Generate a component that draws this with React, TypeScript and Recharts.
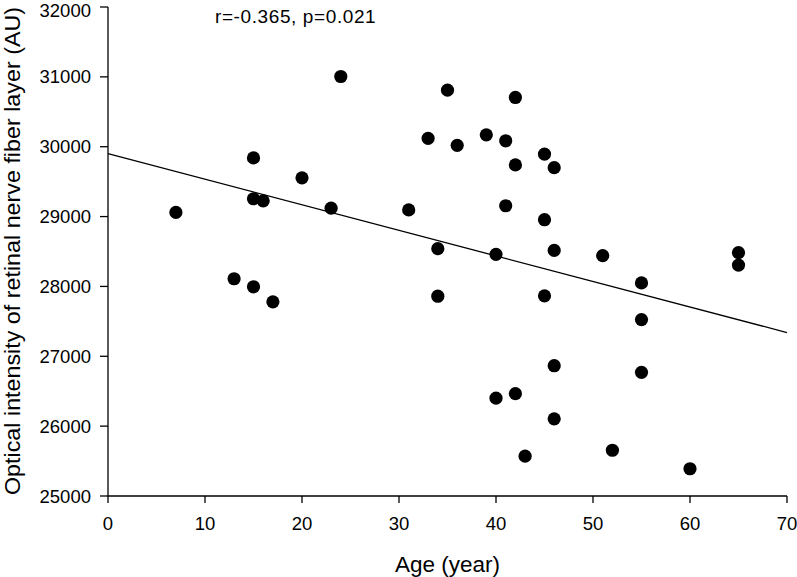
import React from 'react';
import {
  ScatterChart,
  Scatter,
  XAxis,
  YAxis,
  ReferenceLine,
} from 'recharts';

// ages (year) and optical intensity (AU)
const ages = [
  7, 13, 15, 15, 15, 16, 17, 20, 23, 24,
  31, 33, 34, 34, 35, 36, 39, 40, 40, 41,
  41, 42, 42, 42, 43, 45, 45, 45, 46, 46,
  46, 46, 51, 52, 55, 55, 55, 60, 65, 65,
];
const intensities = [
  29060, 28110, 27995, 29840, 29255, 29225, 27780, 29555, 29120, 31005,
  29095, 30120, 28540, 27860, 30810, 30020, 30170, 28460, 26400, 30085,
  29155, 30705, 29740, 26465, 25570, 29895, 28955, 27865, 29700, 28515,
  26865, 26105, 28440, 25655, 28050, 27525, 26770, 25390, 28485, 28305,
];

// fitted regression line end points
const trendX = [0, 70];
const trendY = [29900, 27340];

const xTicks = [0, 10, 20, 30, 40, 50, 60, 70];
const yTicks = [25000, 26000, 27000, 28000, 29000, 30000, 31000, 32000];

const annotation = 'r=-0.365, p=0.021';

const points = ages.map((a, i) => ({ age: a, value: intensities[i] }));

const FONT = 'Arial, "Liberation Sans", Helvetica, sans-serif';

const Dot = (props: any) => {
  const { cx, cy } = props;
  if (cx == null || cy == null) return <g />;
  return <circle cx={cx} cy={cy} r={6.6} fill="#000" />;
};

const App: React.FC = () => {
  return (
    <div style={{ position: 'absolute', left: 0, top: 0, width: 797, height: 577, background: '#fff', fontFamily: FONT }}>
      <ScatterChart
        width={797}
        height={577}
        margin={{ top: 7, right: 10, left: 0, bottom: 0 }}
      >
        <XAxis
          type="number"
          dataKey="age"
          domain={[0, 70]}
          ticks={xTicks}
          allowDataOverflow
          height={81}
          stroke="#000"
          strokeWidth={1.3}
          tickSize={7}
          tickMargin={14}
          tick={{ fontSize: 18.5, fill: '#000', fontFamily: FONT }}
          label={{
            content: () => (
              <text x={447.5} y={572} textAnchor="middle" fontSize={22.5} fill="#000" fontFamily={FONT}>
                Age (year)
              </text>
            ),
          }}
        />
        <YAxis
          type="number"
          dataKey="value"
          domain={[25000, 32000]}
          ticks={yTicks}
          allowDataOverflow
          width={108}
          stroke="#000"
          strokeWidth={1.3}
          tickSize={8}
          tickMargin={9}
          tick={{ fontSize: 18.5, fill: '#000', fontFamily: FONT }}
          label={{
            content: () => (
              <text
                x={20}
                y={251}
                transform="rotate(-90 20 251)"
                textAnchor="middle"
                fontSize={21.5}
                fill="#000"
                fontFamily={FONT}
                textLength={488}
                lengthAdjust="spacingAndGlyphs"
              >
                Optical intensity of retinal nerve fiber layer (AU)
              </text>
            ),
          }}
        />
        <ReferenceLine
          segment={[
            { x: trendX[0], y: trendY[0] },
            { x: trendX[1], y: trendY[1] },
          ]}
          stroke="#000"
          strokeWidth={1.3}
          ifOverflow="visible"
        />
        <Scatter data={points} shape={<Dot />} isAnimationActive={false} />
      </ScatterChart>
      <div
        style={{
          position: 'absolute',
          left: 215,
          top: 7,
          fontSize: 19,
          lineHeight: '19px',
          letterSpacing: '0.6px',
          color: '#000',
          whiteSpace: 'nowrap',
        }}
      >
        {annotation}
      </div>
    </div>
  );
};

export default App;
